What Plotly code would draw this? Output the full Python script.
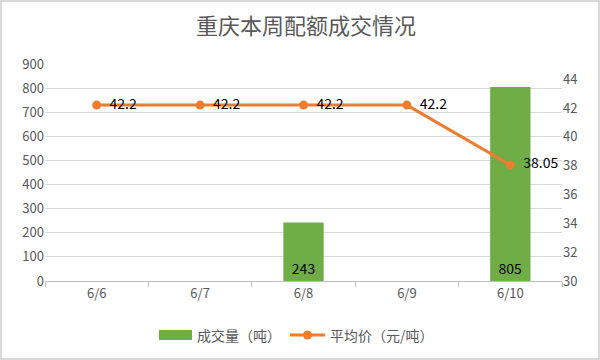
import plotly.graph_objects as go

categories = ["6/6", "6/7", "6/8", "6/9", "6/10"]
volume = [None, None, 243, None, 805]
price = [42.2, 42.2, 42.2, 42.2, 38.05]
price_labels = ["42.2", "42.2", "42.2", "42.2", "38.05"]
legend_names = ["成交量（吨）", "平均价（元/吨）"]

FONT = "Noto Sans CJK SC, Noto Sans, sans-serif"
GREY = "#595959"
GREEN = "#70AD47"
ORANGE = "#ED7D31"

fig = go.Figure()
fig.add_trace(go.Bar(
    x=categories, y=volume, name=legend_names[0],
    marker=dict(color=GREEN, line=dict(width=0)),
    width=0.39,
    text=[("" if v is None else str(v)) for v in volume],
    textposition="inside", insidetextanchor="start",
    textfont=dict(color="black", size=14, family=FONT),
    cliponaxis=False, showlegend=False,
))
fig.add_trace(go.Scatter(
    x=categories, y=price, name=legend_names[1], yaxis="y2",
    mode="lines+markers+text",
    line=dict(color=ORANGE, width=3),
    marker=dict(color=ORANGE, size=9),
    text=["  " + t for t in price_labels], textposition="middle right",
    textfont=dict(color="black", size=14, family=FONT),
    cliponaxis=False, showlegend=False,
))

W, H = 600, 360
L, R, T, B = 45, 38, 64, 79
pw, ph = W - L - R, H - T - B


def px(x):
    return (x - L) / pw


def py(y):
    return (T + ph - y) / ph


fig.update_layout(
    width=W, height=H,
    margin=dict(l=L, r=R, t=T, b=B, autoexpand=False),
    paper_bgcolor="white", plot_bgcolor="white",
    font=dict(family=FONT, color=GREY, size=12),
    title=dict(text="重庆本周配额成交情况", x=306 / W, xanchor="center",
               y=1 - 26 / H, yanchor="middle",
               font=dict(size=22, color=GREY, family=FONT)),
    showlegend=False,
    xaxis=dict(showgrid=False, showline=True, linecolor="#BFBFBF",
               ticks="outside", tickson="boundaries", ticklen=5,
               tickcolor="#BFBFBF", tickfont=dict(size=13, color=GREY),
               automargin=False),
    yaxis=dict(range=[0, 900], dtick=100, showgrid=True, gridcolor="#D9D9D9",
               zeroline=False, showline=False, ticks="",
               tickfont=dict(size=13, color=GREY), automargin=False),
    yaxis2=dict(range=[30, 45.05], tickvals=[30, 32, 34, 36, 38, 40, 42, 44],
                overlaying="y", side="right", showgrid=False, zeroline=False,
                showline=False, tickfont=dict(size=13, color=GREY),
                automargin=False),
)

# outer chart border
fig.add_shape(type="rect", xref="paper", yref="paper",
              x0=px(1), x1=px(W - 1), y0=py(H - 1), y1=py(1),
              line=dict(color="#D9D9D9", width=2), layer="below")

# custom legend
ly = 335
fig.add_shape(type="rect", xref="paper", yref="paper",
              x0=px(159), x1=px(192), y0=py(340), y1=py(330),
              fillcolor=GREEN, line=dict(width=0))
fig.add_shape(type="line", xref="paper", yref="paper",
              x0=px(290), x1=px(325), y0=py(ly), y1=py(ly),
              line=dict(color=ORANGE, width=3))
fig.add_shape(type="circle", xref="paper", yref="paper",
              x0=px(303), x1=px(312), y0=py(ly + 4.5), y1=py(ly - 4.5),
              fillcolor=ORANGE, line=dict(width=0))
fig.add_annotation(xref="paper", yref="paper", x=px(195), y=py(ly),
                   text=legend_names[0], showarrow=False, xanchor="left",
                   yanchor="middle", font=dict(size=14, color=GREY))
fig.add_annotation(xref="paper", yref="paper", x=px(328), y=py(ly),
                   text=legend_names[1], showarrow=False, xanchor="left",
                   yanchor="middle", font=dict(size=14, color=GREY))

fig.write_html("out.html", config={"displayModeBar": False},
               post_script="document.body.style.margin='0';")
